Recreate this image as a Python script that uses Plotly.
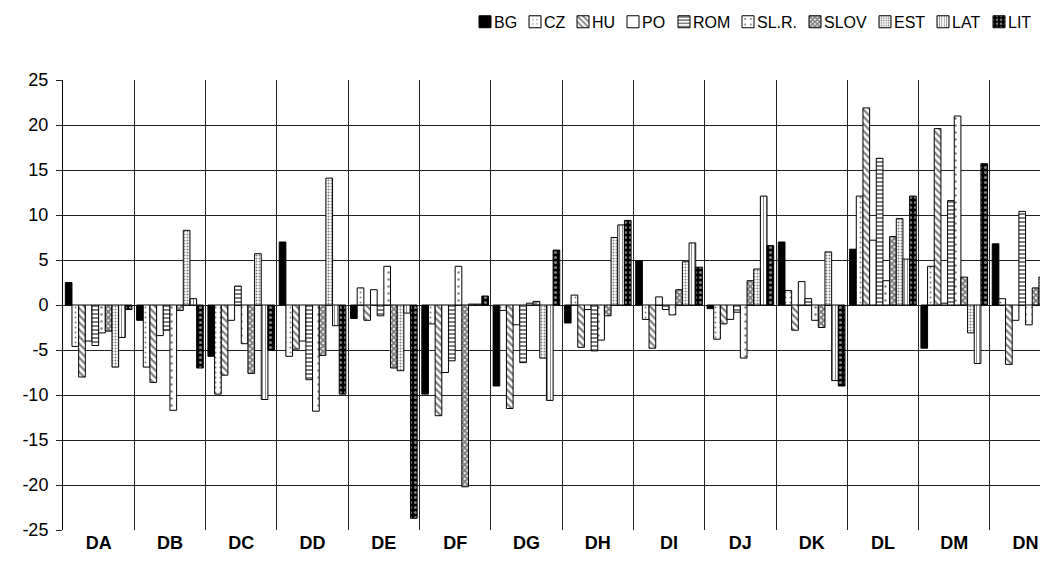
import plotly.graph_objects as go

categories = ["DA", "DB", "DC", "DD", "DE", "DF", "DG", "DH", "DI", "DJ", "DK", "DL", "DM", "DN"]

BG = [2.5, -1.7, -5.7, 7.0, -1.5, -9.9, -9.0, -2.0, 4.9, -0.4, 7.0, 6.2, -4.8, 6.8]
CZ = [-4.6, -6.9, -9.9, -5.7, 1.9, -2.1, -0.6, 1.1, -1.6, -3.8, 1.6, 12.1, 4.3, 0.7]
HU = [-8.0, -8.6, -7.8, -4.9, -1.7, -12.3, -11.5, -4.7, -4.8, -2.1, -2.8, 21.9, 19.6, -6.6]
PO = [-4.0, -3.4, -1.7, -4.0, 1.7, -7.5, -2.2, -0.5, 0.9, -1.6, 2.6, 7.2, 0.2, -1.7]
ROM = [-4.5, -2.8, 2.1, -8.3, -1.2, -6.2, -6.4, -5.1, -0.5, -0.8, 0.7, 16.3, 11.6, 10.4]
SLR = [-3.1, -11.7, -4.3, -11.8, 4.3, 4.3, 0.2, -3.9, -1.1, -5.9, -1.7, 2.7, 21.0, -2.2]
SLOV = [-2.9, -0.6, -7.6, -5.6, -7.0, -20.2, 0.4, -1.2, 1.7, 2.7, -2.5, 7.6, 3.1, 1.9]
EST = [-6.9, 8.3, 5.7, 14.1, -7.3, 0.1, -5.9, 7.5, 4.8, 4.0, 5.9, 9.6, -3.1, 3.1]
LAT = [-3.6, 0.7, -10.5, -2.3, -0.9, 0.1, -10.6, 8.9, 6.9, 12.1, -8.4, 5.1, -6.5, None]
LIT = [-0.5, -7.0, -5.0, -9.9, -23.7, 1.0, 6.1, 9.4, 4.2, 6.6, -9.0, 12.1, 15.7, None]

series_names = ["BG", "CZ", "HU", "PO", "ROM", "SL.R.", "SLOV", "EST", "LAT", "LIT"]
series_values = [BG, CZ, HU, PO, ROM, SLR, SLOV, EST, LAT, LIT]
y_ticks = [25, 20, 15, 10, 5, 0, -5, -10, -15, -20, -25]

# left edge (px, in the figure) of each legend swatch
legend_icon_px = [470, 520, 568, 618, 669, 733, 800, 870, 928, 984]

styles = {
    "BG": dict(color="black", pattern=dict(shape="")),
    "CZ": dict(color="white", pattern=dict(shape=".", fgcolor="black", bgcolor="white", size=5, solidity=0.12)),
    "HU": dict(color="white", pattern=dict(shape="\\", fgcolor="black", bgcolor="white", size=5, solidity=0.45)),
    "PO": dict(color="white", pattern=dict(shape="")),
    "ROM": dict(color="white", pattern=dict(shape="-", fgcolor="black", bgcolor="white", size=4, solidity=0.5)),
    "SL.R.": dict(color="white", pattern=dict(shape=".", fgcolor="black", bgcolor="white", size=7, solidity=0.1)),
    "SLOV": dict(color="white", pattern=dict(shape="x", fgcolor="black", bgcolor="white", size=4, solidity=0.75)),
    "EST": dict(color="white", pattern=dict(shape=".", fgcolor="black", bgcolor="white", size=3, solidity=0.35)),
    "LAT": dict(color="white", pattern=dict(shape="|", fgcolor="black", bgcolor="white", size=3, solidity=0.3)),
    "LIT": dict(color="black", pattern=dict(shape=".", fgcolor="white", bgcolor="black", size=5, solidity=0.3)),
}

positions = list(range(len(categories)))
# the page body has an 8px margin, so the figure is 8px smaller than the window
W, H = 1040, 566
ml, mt, mb = 55, 72, 44
plot_w, plot_h = W - ml, H - mt - mb
cat_px = 71.3
x_max = -0.5 + plot_w / cat_px
FONT = "Liberation Sans, Arial, sans-serif"
legend_mid_px = 14

fig = go.Figure()
legends = {}
annotations = []
for i, (name, vals) in enumerate(zip(series_names, series_values)):
    st = styles[name]
    lname = "legend" if i == 0 else f"legend{i + 1}"
    fig.add_trace(go.Bar(
        name="",
        x=positions,
        y=vals,
        legend=lname,
        hovertemplate=name + ": %{y}<extra></extra>",
        marker=dict(color=st["color"], pattern=st["pattern"], line=dict(color="black", width=1)),
    ))
    legends[lname] = dict(
        orientation="h", xref="container", yref="container",
        x=(legend_icon_px[i] - 13) / W, xanchor="left",
        y=1 - legend_mid_px / H, yanchor="middle",
        font=dict(size=15, family=FONT), itemwidth=30,
        bgcolor="rgba(0,0,0,0)", borderwidth=0,
    )
    annotations.append(dict(
        text=name, showarrow=False,
        xref="paper", yref="paper",
        x=(legend_icon_px[i] + 14 - ml) / plot_w, xanchor="left",
        y=1 + (mt - legend_mid_px) / plot_h, yanchor="middle",
        font=dict(size=16, family=FONT, color="black"),
    ))

fig.update_layout(
    width=W, height=H,
    margin=dict(l=ml, r=0, t=mt, b=mb, autoexpand=False),
    paper_bgcolor="white", plot_bgcolor="white",
    barmode="group", bargap=0.065, bargroupgap=0,
    font=dict(family=FONT, size=18, color="black"),
    showlegend=True,
    annotations=annotations,
    **legends,
)
fig.update_xaxes(
    range=[-0.5, x_max], automargin=False,
    tickmode="array", tickvals=positions, ticktext=[f"<b>{c}</b>" for c in categories],
    tickfont=dict(size=18, family=FONT),
    showgrid=False, zeroline=False, ticks="", showline=False,
    minor=dict(tick0=0.5, dtick=1, showgrid=True, gridcolor="#222", gridwidth=1, ticks=""),
)
fig.update_yaxes(
    range=[-25, 25], automargin=False,
    tickmode="array", tickvals=y_ticks, ticktext=[str(v) for v in y_ticks],
    showgrid=True, gridcolor="#222", gridwidth=1,
    zeroline=False, showline=True, linecolor="black", linewidth=1,
    ticks="outside", ticklen=6, tickcolor="#222", ticklabelstandoff=4,
    tickfont=dict(size=18, family=FONT),
)

fig.write_html("out.html")
